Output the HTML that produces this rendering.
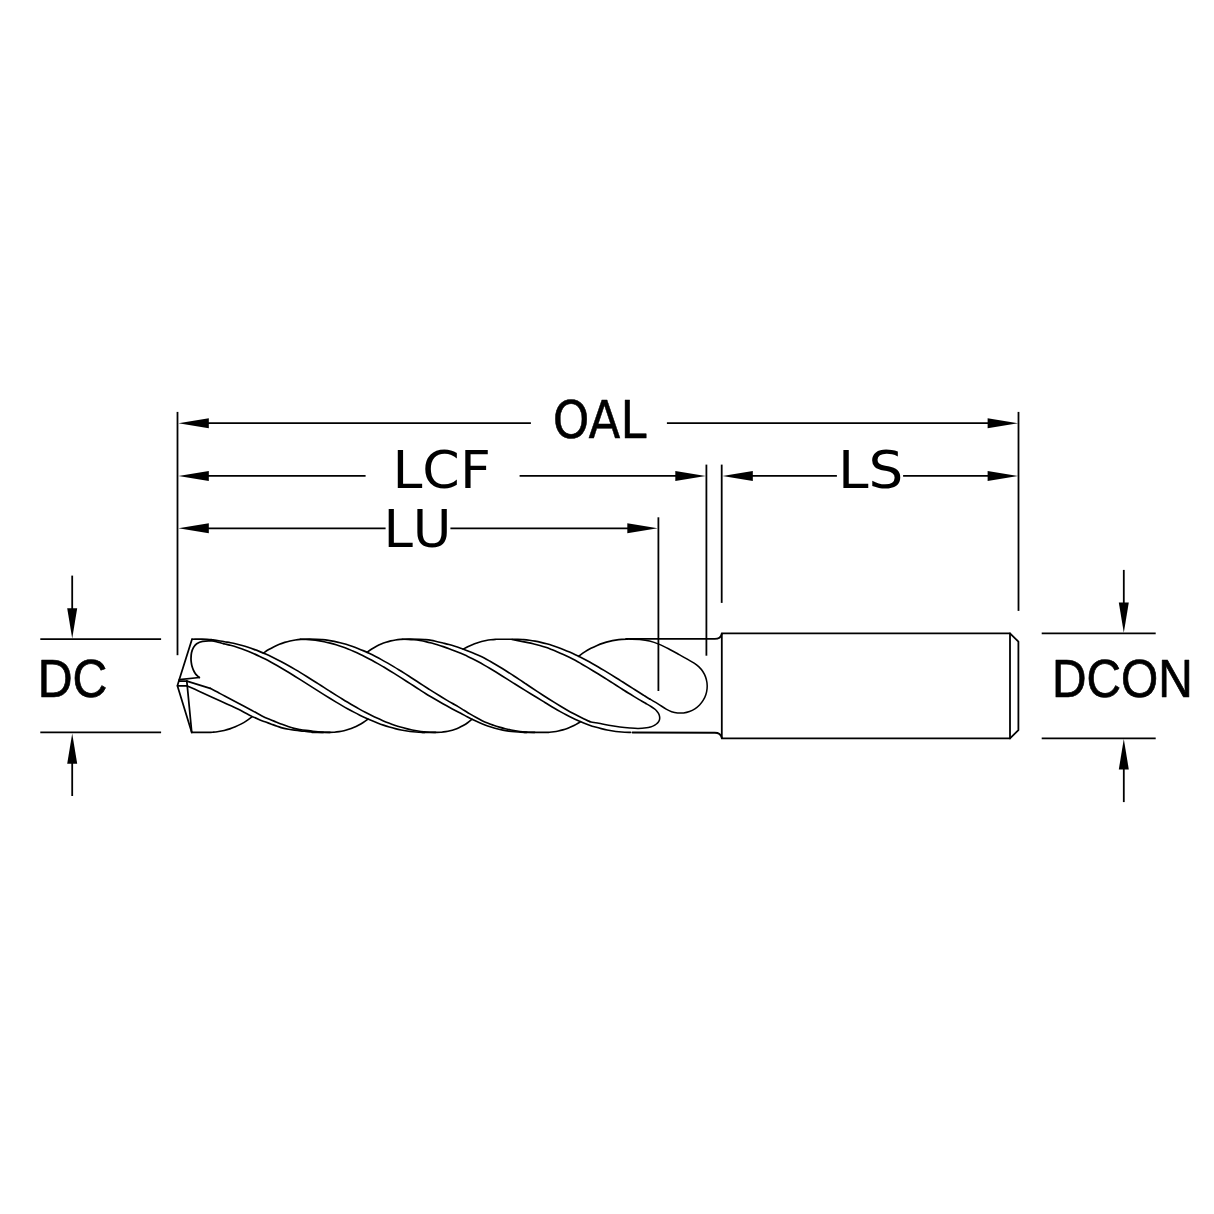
<!DOCTYPE html>
<html lang="en">
<head>
<meta charset="utf-8">
<title>Drill dimensions</title>
<style>
html,body{margin:0;padding:0;background:#fff;}
body{width:1214px;height:1214px;overflow:hidden;font-family:"Liberation Sans",sans-serif;}
svg{display:block;}
.drill path{fill:none;stroke:#000;stroke-width:1.65;stroke-linejoin:round;stroke-linecap:round;}
.dims path{fill:none;stroke:#000;stroke-width:1.8;}
.arrows path{fill:#000;stroke:none;}
text{fill:#000;}
</style>
</head>
<body>
<svg width="1214" height="1214" viewBox="0 0 1214 1214">
<rect width="1214" height="1214" fill="#fff"/>
<g class="dims">
<path d="M177.50 411.90 L177.50 655.20"/>
<path d="M1018.50 411.90 L1018.50 610.90"/>
<path d="M706.40 464.60 L706.40 655.70"/>
<path d="M721.70 464.60 L721.70 602.90"/>
<path d="M658.40 517.30 L658.40 691.00"/>
<path d="M190.00 423.20 L530.90 423.20"/>
<path d="M666.90 423.20 L1005.00 423.20"/>
<path d="M190.00 475.90 L365.60 475.90"/>
<path d="M519.60 475.90 L695.00 475.90"/>
<path d="M735.00 475.90 L836.90 475.90"/>
<path d="M903.10 475.90 L1005.00 475.90"/>
<path d="M190.00 528.30 L385.60 528.30"/>
<path d="M450.40 528.30 L645.00 528.30"/>
<path d="M40.30 639.20 L161.10 639.20"/>
<path d="M40.30 732.30 L161.10 732.30"/>
<path d="M72.2 575.6 L72.2 615"/>
<path d="M72.2 796 L72.2 760"/>
<path d="M1041.70 633.40 L1155.70 633.40"/>
<path d="M1041.70 738.40 L1155.70 738.40"/>
<path d="M1123.8 569.9 L1123.8 610"/>
<path d="M1123.8 802.1 L1123.8 765"/>
</g>
<g class="arrows">
<path d="M178.40 423.20 L208.80 418.20 L208.80 428.20 Z"/>
<path d="M1018.00 423.20 L987.60 428.20 L987.60 418.20 Z"/>
<path d="M178.40 475.90 L208.80 470.90 L208.80 480.90 Z"/>
<path d="M705.70 475.90 L675.30 480.90 L675.30 470.90 Z"/>
<path d="M722.40 475.90 L752.80 470.90 L752.80 480.90 Z"/>
<path d="M1018.00 475.90 L987.60 480.90 L987.60 470.90 Z"/>
<path d="M178.40 528.30 L208.80 523.30 L208.80 533.30 Z"/>
<path d="M657.70 528.30 L627.30 533.30 L627.30 523.30 Z"/>
<path d="M72.20 638.60 L67.20 608.20 L77.20 608.20 Z"/>
<path d="M72.20 733.40 L77.20 763.80 L67.20 763.80 Z"/>
<path d="M1123.80 632.80 L1118.80 602.40 L1128.80 602.40 Z"/>
<path d="M1123.80 739.00 L1128.80 769.40 L1118.80 769.40 Z"/>
</g>
<g class="drill">
<path d="M192.00 639.20 L179.30 679.60 L177.40 685.80 L191.75 732.40" style="stroke-width:1.75"/>
<path d="M179.30 679.70 L199.30 677.50" style="stroke-width:1.75"/>
<path d="M178.90 681.20 L186.90 681.20" style="stroke-width:1.75"/>
<path d="M177.60 685.80 L187.00 685.80" style="stroke-width:1.75"/>
<path d="M186.80 681.20 L191.75 732.40" style="stroke-width:1.75"/>
<path d="M199.30 677.50 C198.90 677.15 197.60 676.12 196.90 675.40 C196.20 674.68 195.70 674.13 195.10 673.20 C194.50 672.27 193.80 670.90 193.30 669.80 C192.80 668.70 192.43 667.80 192.10 666.60 C191.77 665.40 191.48 663.95 191.30 662.60 C191.12 661.25 190.97 660.13 191.00 658.50 C191.03 656.87 191.10 654.62 191.50 652.80 C191.90 650.98 192.53 649.10 193.40 647.60 C194.27 646.10 195.17 644.85 196.70 643.80 C198.23 642.75 200.05 641.78 202.60 641.30 C205.15 640.82 209.45 640.79 212.00 640.94 C214.55 641.09 215.94 641.72 217.91 642.18 C219.88 642.64 221.85 643.22 223.82 643.70" style="stroke-width:1.75"/>
<path d="M223.82 643.70 C225.79 644.19 227.76 644.61 229.73 645.11 C231.70 645.61 233.67 646.10 235.64 646.69 C237.61 647.28 239.59 647.95 241.56 648.66 C243.53 649.38 245.50 650.17 247.47 650.97 C249.44 651.77 251.41 652.60 253.38 653.47 C255.35 654.33 257.32 655.22 259.29 656.15 C261.26 657.07 263.23 658.02 265.20 659.03 C267.17 660.03 269.14 661.11 271.11 662.19 C273.08 663.28 275.05 664.39 277.02 665.52 C278.99 666.65 280.96 667.80 282.93 668.97 C284.90 670.14 286.87 671.33 288.84 672.53 C290.81 673.74 292.79 674.96 294.76 676.19 C296.73 677.41 298.70 678.65 300.67 679.90 C302.64 681.14 304.61 682.40 306.58 683.65 C308.55 684.90 310.52 686.16 312.49 687.42 C314.46 688.67 316.43 689.93 318.40 691.17 C320.37 692.42 322.34 693.66 324.31 694.89 C326.28 696.12 328.25 697.35 330.22 698.56 C332.19 699.76 334.16 700.96 336.13 702.13 C338.10 703.31 340.07 704.47 342.04 705.60 C344.01 706.74 345.99 707.86 347.96 708.95 C349.93 710.04 351.90 711.10 353.87 712.14 C355.84 713.17 357.81 714.18 359.78 715.16 C361.75 716.13 363.72 717.08 365.69 717.98 C367.66 718.89 369.63 719.76 371.60 720.60 C373.57 721.43 375.54 722.23 377.51 722.99 C379.48 723.74 381.45 724.46 383.42 725.13 C385.39 725.81 387.36 726.44 389.33 727.02 C391.30 727.61 393.27 728.15 395.24 728.64 C397.21 729.14 399.19 729.59 401.16 729.98 C403.13 730.38 405.10 730.73 407.07 731.04 C409.04 731.34 411.01 731.59 412.98 731.79 C414.95 731.99 416.92 732.15 418.89 732.25 C420.86 732.35 423.81 732.37 424.80 732.40"/>
<path d="M192.00 639.20 C194.52 639.20 203.61 639.09 207.10 639.20 C210.59 639.31 211.01 639.62 212.96 639.87 C214.91 640.12 216.86 640.38 218.82 640.69 C220.77 641.01 222.72 641.40 224.68 641.74 C226.63 642.07 228.58 642.34 230.54 642.71 C232.49 643.08 234.44 643.49 236.39 643.95 C238.35 644.42 240.30 644.94 242.25 645.50 C244.21 646.07 246.16 646.69 248.11 647.33 C250.07 647.97 252.02 648.65 253.97 649.37 C255.92 650.08 257.88 650.83 259.83 651.62 C261.78 652.41 263.74 653.24 265.69 654.11 C267.64 654.97 269.60 655.87 271.55 656.80 C273.50 657.73 275.45 658.69 277.41 659.69 C279.36 660.68 281.31 661.72 283.27 662.77 C285.22 663.82 287.17 664.90 289.13 666.00 C291.08 667.09 293.03 668.22 294.98 669.36 C296.94 670.50 298.89 671.65 300.84 672.84 C302.80 674.02 304.75 675.25 306.70 676.48 C308.66 677.70 310.61 678.94 312.56 680.18 C314.51 681.42 316.47 682.67 318.42 683.92 C320.37 685.17 322.33 686.43 324.28 687.68 C326.23 688.93 328.19 690.18 330.14 691.42 C332.09 692.66 334.04 693.90 336.00 695.12 C337.95 696.35 339.90 697.56 341.86 698.76 C343.81 699.97 345.76 701.16 347.72 702.32 C349.67 703.49 351.62 704.65 353.57 705.78 C355.53 706.91 357.48 708.02 359.43 709.10 C361.39 710.18 363.34 711.24 365.29 712.27 C367.25 713.30 369.20 714.30 371.15 715.27 C373.10 716.24 375.06 717.18 377.01 718.08 C378.96 718.98 380.92 719.85 382.87 720.68 C384.82 721.51 386.78 722.30 388.73 723.05 C390.68 723.80 392.63 724.52 394.59 725.19 C396.54 725.85 398.49 726.48 400.45 727.06 C402.40 727.64 404.35 728.18 406.31 728.67 C408.26 729.16 410.21 729.61 412.16 730.00 C414.12 730.40 416.07 730.75 418.02 731.05 C419.98 731.35 421.93 731.60 423.88 731.80 C425.84 732.00 427.79 732.15 429.74 732.25 C431.69 732.35 434.62 732.37 435.60 732.40"/>
<path d="M186.90 681.20 L210.20 688.30" style="stroke-width:1.75"/>
<path d="M210.20 688.30 C211.40 688.93 214.98 690.82 217.40 692.10 C219.82 693.38 221.28 694.20 224.70 696.00 C228.12 697.80 233.35 700.50 237.90 702.90 C242.45 705.30 247.98 708.23 252.00 710.40 C256.02 712.57 259.00 714.38 262.00 715.90 C265.00 717.42 267.67 718.52 270.00 719.53 C272.33 720.53 274.00 721.12 276.00 721.92 C278.00 722.73 280.00 723.57 282.00 724.34 C284.00 725.11 286.00 725.88 288.00 726.54 C290.00 727.21 292.00 727.84 294.00 728.33 C296.00 728.82 298.00 729.16 300.00 729.51 C302.00 729.86 304.00 730.15 306.00 730.43 C308.00 730.71 310.00 730.95 312.00 731.19 C314.00 731.43 316.00 731.68 318.00 731.86 C320.00 732.04 322.00 732.17 324.00 732.26 C326.00 732.35 329.00 732.38 330.00 732.40"/>
<path d="M187.30 685.90 C189.33 686.82 195.47 689.57 199.50 691.40 C203.53 693.23 207.30 694.98 211.50 696.90 C215.70 698.82 220.30 700.88 224.70 702.90 C229.10 704.92 233.83 707.00 237.90 709.00 C241.97 711.00 245.42 713.07 249.10 714.90 C252.78 716.73 257.22 718.80 260.00 720.00 C262.78 721.19 263.84 721.37 265.75 722.07 C267.67 722.76 269.59 723.48 271.51 724.17 C273.43 724.86 275.35 725.56 277.26 726.22 C279.18 726.87 281.10 727.57 283.02 728.08 C284.94 728.59 286.85 728.93 288.77 729.28 C290.69 729.63 292.61 729.92 294.53 730.19 C296.45 730.46 298.36 730.69 300.28 730.89 C302.20 731.10 304.12 731.26 306.04 731.44 C307.95 731.62 309.87 731.83 311.79 731.97 C313.71 732.11 315.63 732.22 317.55 732.29 C319.46 732.36 322.34 732.38 323.30 732.40"/>
<path d="M191.75 732.40 C194.38 732.40 203.95 732.44 207.50 732.40 C211.05 732.36 211.21 732.33 213.06 732.18 C214.92 732.04 216.77 731.82 218.62 731.53 C220.48 731.24 222.33 730.87 224.19 730.43 C226.04 729.98 227.90 729.46 229.75 728.85 C231.60 728.24 233.46 727.56 235.31 726.77 C237.17 725.98 239.02 725.12 240.88 724.13 C242.73 723.15 244.58 722.08 246.44 720.87 C248.29 719.66 251.07 717.53 252.00 716.86"/>
<path d="M263.40 653.11 C264.29 652.52 266.95 650.64 268.72 649.57 C270.50 648.49 272.27 647.53 274.05 646.66 C275.82 645.78 277.60 645.00 279.38 644.29 C281.15 643.58 282.93 642.96 284.70 642.41 C286.47 641.86 288.25 641.39 290.02 640.99 C291.80 640.59 293.58 640.26 295.35 639.99 C297.12 639.72 298.90 639.53 300.68 639.40 C302.45 639.27 303.35 639.22 306.00 639.20 C308.65 639.18 313.85 639.20 316.60 639.27 C319.35 639.35 320.53 639.48 322.49 639.66 C324.46 639.84 326.42 640.07 328.39 640.36 C330.35 640.64 332.32 640.98 334.28 641.37 C336.25 641.77 338.21 642.21 340.18 642.70 C342.14 643.19 344.11 643.74 346.07 644.33 C348.04 644.92 350.00 645.56 351.97 646.24 C353.93 646.92 355.90 647.66 357.86 648.43 C359.83 649.20 361.79 650.02 363.76 650.88 C365.72 651.73 367.69 652.63 369.65 653.57 C371.62 654.50 373.58 655.48 375.55 656.48 C377.51 657.49 379.48 658.53 381.44 659.60 C383.41 660.67 385.37 661.78 387.34 662.90 C389.30 664.03 391.26 665.19 393.23 666.36 C395.19 667.54 397.16 668.74 399.12 669.96 C401.09 671.17 403.05 672.41 405.02 673.66 C406.98 674.91 408.95 676.18 410.91 677.45 C412.88 678.72 414.84 680.01 416.81 681.30 C418.77 682.58 420.74 683.90 422.70 685.18 C424.67 686.45 426.63 687.71 428.60 688.96 C430.56 690.20 432.53 691.43 434.49 692.65 C436.46 693.88 438.42 695.10 440.39 696.30 C442.35 697.50 444.32 698.70 446.28 699.87 C448.25 701.04 450.21 702.20 452.18 703.33 C454.14 704.46 456.11 705.51 458.07 706.66 C460.04 707.82 462.00 709.06 463.96 710.26 C465.93 711.47 467.89 712.72 469.86 713.89 C471.82 715.06 473.79 716.20 475.75 717.28 C477.72 718.36 479.68 719.42 481.65 720.39 C483.61 721.35 485.58 722.26 487.54 723.06 C489.51 723.87 491.47 724.54 493.44 725.22 C495.40 725.89 497.37 726.52 499.33 727.10 C501.30 727.68 503.26 728.22 505.23 728.70 C507.19 729.19 509.16 729.63 511.12 730.01 C513.09 730.39 515.05 730.72 517.02 731.01 C518.98 731.30 520.95 731.55 522.91 731.75 C524.88 731.96 526.84 732.13 528.81 732.24 C530.77 732.35 533.72 732.37 534.70 732.40"/>
<path d="M300.40 639.20 C301.39 639.23 304.37 639.25 306.36 639.36 C308.34 639.47 310.33 639.62 312.31 639.84 C314.30 640.05 316.28 640.31 318.27 640.63 C320.25 640.94 322.24 641.31 324.22 641.72 C326.21 642.14 328.19 642.61 330.18 643.12 C332.16 643.64 334.15 644.21 336.13 644.82 C338.12 645.43 340.10 646.09 342.09 646.79 C344.07 647.49 346.06 648.24 348.04 649.03 C350.03 649.81 352.01 650.65 354.00 651.52 C355.98 652.38 357.97 653.29 359.95 654.24 C361.94 655.18 363.92 656.17 365.91 657.18 C367.89 658.19 369.88 659.24 371.86 660.31 C373.85 661.39 375.83 662.49 377.82 663.62 C379.80 664.75 381.79 665.91 383.77 667.08 C385.76 668.26 387.74 669.46 389.73 670.67 C391.71 671.88 393.70 673.12 395.68 674.36 C397.67 675.60 399.65 676.86 401.64 678.13 C403.62 679.40 405.61 680.67 407.59 681.95 C409.58 683.23 411.56 684.52 413.55 685.80 C415.54 687.08 417.52 688.37 419.51 689.65 C421.49 690.92 423.48 692.22 425.46 693.46 C427.45 694.69 429.43 695.87 431.42 697.06 C433.40 698.25 435.39 699.43 437.37 700.58 C439.36 701.74 441.34 702.89 443.33 704.01 C445.31 705.12 447.30 706.23 449.28 707.30 C451.27 708.37 453.25 709.40 455.24 710.43 C457.22 711.46 459.21 712.43 461.19 713.49 C463.18 714.55 465.16 715.72 467.15 716.78 C469.13 717.83 471.12 718.87 473.10 719.83 C475.09 720.79 477.07 721.68 479.06 722.55 C481.04 723.41 483.03 724.27 485.01 725.01 C487.00 725.76 488.98 726.40 490.97 727.02 C492.95 727.65 494.94 728.24 496.92 728.75 C498.91 729.27 500.89 729.73 502.88 730.12 C504.86 730.51 506.85 730.82 508.83 731.10 C510.82 731.37 512.80 731.58 514.79 731.77 C516.77 731.96 518.76 732.14 520.74 732.24 C522.73 732.35 525.71 732.37 526.70 732.40"/>
<path d="M312.00 732.40 C314.92 732.40 325.78 732.43 329.50 732.40 C333.22 732.37 332.71 732.34 334.31 732.21 C335.92 732.09 337.52 731.90 339.12 731.65 C340.73 731.40 342.33 731.08 343.94 730.70 C345.54 730.31 347.15 729.87 348.75 729.34 C350.35 728.82 351.96 728.23 353.56 727.55 C355.17 726.87 356.77 726.13 358.38 725.28 C359.98 724.44 361.58 723.51 363.19 722.47 C364.79 721.43 367.20 719.61 368.00 719.03"/>
<path d="M367.00 652.33 C367.79 651.77 370.17 649.97 371.75 648.95 C373.33 647.93 374.92 647.03 376.50 646.19 C378.08 645.36 379.67 644.63 381.25 643.97 C382.83 643.30 384.42 642.72 386.00 642.21 C387.58 641.69 389.17 641.25 390.75 640.87 C392.33 640.49 393.92 640.19 395.50 639.94 C397.08 639.69 398.67 639.51 400.25 639.38 C401.83 639.26 401.77 639.22 405.00 639.20 C408.23 639.18 416.19 639.20 419.60 639.27 C423.01 639.35 423.52 639.46 425.48 639.65 C427.43 639.84 429.39 640.06 431.35 640.40 C433.31 640.74 435.27 641.25 437.23 641.69 C439.19 642.14 441.14 642.59 443.10 643.06 C445.06 643.54 447.02 644.00 448.98 644.53 C450.94 645.07 452.90 645.66 454.86 646.28 C456.81 646.91 458.77 647.61 460.73 648.31 C462.69 649.00 464.65 649.73 466.61 650.48 C468.57 651.23 470.52 651.98 472.48 652.79 C474.44 653.59 476.40 654.44 478.36 655.32 C480.32 656.19 482.28 657.06 484.23 658.05 C486.19 659.04 488.15 660.17 490.11 661.28 C492.07 662.39 494.03 663.55 495.99 664.71 C497.94 665.88 499.90 667.08 501.86 668.29 C503.82 669.49 505.78 670.73 507.74 671.97 C509.70 673.21 511.66 674.47 513.61 675.74 C515.57 677.00 517.53 678.26 519.49 679.57 C521.45 680.87 523.41 682.23 525.37 683.56 C527.32 684.90 529.28 686.25 531.24 687.55 C533.20 688.86 535.16 690.14 537.12 691.42 C539.08 692.70 541.03 693.98 542.99 695.24 C544.95 696.50 546.91 697.76 548.87 699.00 C550.83 700.23 552.79 701.45 554.74 702.66 C556.70 703.86 558.66 705.04 560.62 706.20 C562.58 707.37 564.54 708.54 566.50 709.67 C568.46 710.79 570.41 711.90 572.37 712.96 C574.33 714.03 576.29 715.07 578.25 716.07 C580.21 717.08 582.17 718.05 584.12 718.98 C586.08 719.90 587.55 720.92 590.00 721.64"/>
<path d="M590.00 721.64 C592.45 722.36 595.68 722.71 598.80 723.30 C601.92 723.89 605.18 724.58 608.70 725.20 C612.22 725.82 616.35 726.53 619.90 727.00 C623.45 727.47 626.95 727.77 630.00 728.00 C633.05 728.23 635.45 728.43 638.20 728.40 C640.95 728.37 644.43 728.05 646.50 727.80 C648.57 727.55 649.37 727.27 650.60 726.90 C651.83 726.53 652.93 726.08 653.90 725.60 C654.87 725.12 655.68 724.57 656.40 724.00 C657.12 723.43 657.70 722.87 658.20 722.20 C658.70 721.53 659.15 720.77 659.40 720.00 C659.65 719.23 659.73 718.42 659.70 717.60 C659.67 716.78 659.48 715.92 659.20 715.10 C658.92 714.28 658.45 713.43 658.00 712.70 C657.55 711.97 657.08 711.33 656.50 710.70 C655.92 710.07 655.42 709.60 654.50 708.90 C653.58 708.20 652.42 707.39 651.00 706.50 C649.58 705.61 647.82 704.62 646.00 703.56" style="stroke-width:1.55"/>
<path d="M646.00 703.56 C644.18 702.50 642.07 701.30 640.10 700.15 C638.13 699.00 636.17 697.84 634.20 696.66 C632.23 695.47 630.27 694.28 628.30 693.05 C626.33 691.82 624.37 690.55 622.40 689.29 C620.43 688.03 618.47 686.76 616.50 685.50 C614.53 684.24 612.57 682.99 610.60 681.74 C608.63 680.49 606.67 679.25 604.70 678.01 C602.73 676.77 600.77 675.54 598.80 674.32 C596.83 673.10 594.87 671.88 592.90 670.68 C590.93 669.48 588.97 668.29 587.00 667.12 C585.03 665.95 583.07 664.79 581.10 663.66 C579.13 662.53 577.17 661.39 575.20 660.33 C573.23 659.27 571.27 658.26 569.30 657.29 C567.33 656.32 565.37 655.41 563.40 654.51 C561.43 653.61 559.47 652.74 557.50 651.91 C555.53 651.08 553.57 650.27 551.60 649.51 C549.63 648.75 547.67 647.99 545.70 647.32 C543.73 646.65 541.77 646.06 539.80 645.50 C537.83 644.93 535.87 644.41 533.90 643.93 C531.93 643.45 531.65 643.35 528.00 642.61 C524.35 641.87 514.67 640.02 512.00 639.50"/>
<path d="M402.30 639.20 C403.28 639.23 406.20 639.25 408.15 639.35 C410.10 639.45 412.05 639.60 414.00 639.80 C415.95 640.00 417.90 640.25 419.85 640.55 C421.80 640.86 423.75 641.19 425.71 641.61 C427.66 642.03 429.61 642.53 431.56 643.06 C433.51 643.59 435.46 644.19 437.41 644.79 C439.36 645.38 441.31 646.00 443.26 646.65 C445.21 647.30 447.16 647.95 449.11 648.66 C451.06 649.38 453.01 650.15 454.96 650.92 C456.91 651.69 458.86 652.47 460.81 653.29 C462.76 654.12 464.71 654.98 466.66 655.87 C468.61 656.77 470.56 657.66 472.52 658.65 C474.47 659.63 476.42 660.71 478.37 661.79 C480.32 662.86 482.27 663.97 484.22 665.10 C486.17 666.22 488.12 667.37 490.07 668.53 C492.02 669.70 493.97 670.88 495.92 672.08 C497.87 673.28 499.82 674.49 501.77 675.71 C503.72 676.93 505.67 678.16 507.62 679.40 C509.57 680.64 511.52 681.90 513.47 683.13 C515.42 684.36 517.38 685.58 519.33 686.79 C521.28 688.00 523.23 689.21 525.18 690.41 C527.13 691.62 529.08 692.81 531.03 694.00 C532.98 695.19 534.93 696.34 536.88 697.53 C538.83 698.71 540.78 699.91 542.73 701.11 C544.68 702.32 546.63 703.56 548.58 704.75 C550.53 705.94 552.48 707.12 554.43 708.26 C556.38 709.41 558.33 710.53 560.28 711.62 C562.24 712.71 564.19 713.78 566.14 714.79 C568.09 715.81 570.04 716.78 571.99 717.72 C573.94 718.66 575.89 719.57 577.84 720.44 C579.79 721.31 581.74 722.14 583.69 722.93 C585.64 723.72 587.59 724.49 589.54 725.18 C591.49 725.87 593.44 726.48 595.39 727.06 C597.34 727.64 599.29 728.18 601.24 728.67 C603.19 729.16 605.14 729.61 607.09 730.00 C609.05 730.40 611.00 730.75 612.95 731.05 C614.90 731.35 616.85 731.60 618.80 731.80 C620.75 732.00 622.70 732.15 624.65 732.25 C626.60 732.35 629.52 732.37 630.50 732.40"/>
<path d="M632.50 732.50 L714.8 732.75 C718 732.75 721 734.40 721.8 737.90" style="stroke-width:1.8"/>
<path d="M422.00 732.40 C424.50 732.40 433.77 732.43 437.00 732.40 C440.23 732.37 439.92 732.34 441.38 732.22 C442.83 732.10 444.29 731.92 445.75 731.68 C447.21 731.43 448.67 731.13 450.12 730.76 C451.58 730.39 453.04 729.95 454.50 729.45 C455.96 728.94 457.42 728.36 458.88 727.70 C460.33 727.04 461.79 726.32 463.25 725.49 C464.71 724.66 466.17 723.75 467.62 722.72 C469.08 721.69 471.27 719.87 472.00 719.30"/>
<path d="M463.10 649.19 C463.87 648.78 466.18 647.47 467.71 646.71 C469.25 645.96 470.79 645.27 472.33 644.64 C473.86 644.01 475.40 643.44 476.94 642.93 C478.48 642.42 480.01 641.97 481.55 641.57 C483.09 641.16 484.62 640.82 486.16 640.52 C487.70 640.22 489.24 639.98 490.77 639.78 C492.31 639.59 493.85 639.44 495.39 639.35 C496.93 639.25 496.25 639.21 500.00 639.20 C503.75 639.19 513.96 639.20 517.90 639.27 C521.84 639.34 521.73 639.45 523.64 639.61 C525.56 639.78 527.47 639.99 529.39 640.24 C531.30 640.50 533.22 640.80 535.13 641.15 C537.04 641.50 538.96 641.90 540.87 642.34 C542.79 642.78 544.70 643.26 546.62 643.79 C548.53 644.32 550.45 644.89 552.36 645.51 C554.28 646.12 556.19 646.77 558.10 647.47 C560.02 648.16 561.93 648.90 563.85 649.67 C565.76 650.44 567.68 651.25 569.59 652.09 C571.51 652.93 573.42 653.81 575.33 654.72 C577.25 655.63 579.16 656.57 581.08 657.54 C582.99 658.51 584.91 659.51 586.82 660.53 C588.74 661.56 590.65 662.61 592.57 663.69 C594.48 664.76 596.39 665.86 598.31 666.98 C600.22 668.09 602.14 669.23 604.05 670.38 C605.97 671.53 607.88 672.70 609.80 673.88 C611.71 675.06 613.62 676.25 615.54 677.45 C617.45 678.65 619.37 679.87 621.28 681.08 C623.20 682.29 625.11 683.51 627.03 684.73 C628.94 685.95 630.86 687.18 632.77 688.39 C634.68 689.61 636.60 690.83 638.51 692.04 C640.43 693.25 642.34 694.45 644.26 695.64 C646.17 696.84 647.71 697.81 650.00 699.19"/>
<path d="M650.00 699.19 C652.29 700.57 655.31 702.25 658.00 703.90 C660.69 705.55 663.89 707.79 666.16 709.09 C668.44 710.38 669.74 711.02 671.63 711.67 C673.53 712.31 675.55 712.75 677.54 712.96 C679.53 713.16 681.60 713.14 683.59 712.90 C685.58 712.65 687.59 712.17 689.47 711.49 C691.35 710.81 693.20 709.89 694.89 708.80 C696.57 707.72 698.17 706.41 699.57 704.97 C700.96 703.54 702.23 701.91 703.27 700.20 C704.31 698.48 705.18 696.61 705.82 694.71 C706.45 692.81 706.88 690.79 707.07 688.79 C707.27 686.80 707.23 684.74 706.98 682.75 C706.72 680.76 706.23 678.76 705.53 676.88 C704.84 675.00 703.91 673.15 702.81 671.48 C701.72 669.80 700.40 668.21 698.95 666.82 C697.51 665.43 696.03 664.38 694.15 663.14 C692.28 661.91 690.19 660.82 687.70 659.40 C685.21 657.98 682.27 656.30 679.20 654.60 C676.13 652.90 672.60 650.90 669.30 649.20 C666.00 647.50 662.70 645.77 659.40 644.40 C656.10 643.03 652.78 641.82 649.50 641.00 C646.22 640.18 642.98 639.80 639.70 639.50 C636.42 639.20 631.45 639.25 629.80 639.20" style="stroke-width:1.55"/>
<path d="M524.00 732.40 C527.50 732.40 540.76 732.43 545.00 732.40 C549.24 732.37 547.97 732.35 549.45 732.25 C550.93 732.14 552.42 731.99 553.90 731.78 C555.38 731.57 556.87 731.31 558.35 731.00 C559.83 730.68 561.32 730.32 562.80 729.89 C564.28 729.46 565.77 728.98 567.25 728.43 C568.73 727.88 570.22 727.27 571.70 726.59 C573.18 725.91 574.67 725.17 576.15 724.35 C577.63 723.52 579.86 722.09 580.60 721.64"/>
<path d="M578.60 656.30 C579.63 655.57 582.72 653.23 584.77 651.90 C586.83 650.57 588.89 649.39 590.95 648.31 C593.01 647.23 595.07 646.27 597.12 645.41 C599.18 644.54 601.24 643.78 603.30 643.11 C605.36 642.44 607.42 641.87 609.48 641.38 C611.53 640.88 613.59 640.48 615.65 640.16 C617.71 639.84 619.77 639.60 621.83 639.44 C623.88 639.28 626.97 639.24 628.00 639.20"/>
<path d="M626 638.90 L714.8 638.90 C718 638.90 721 637.20 721.8 633.70" style="stroke-width:1.8"/>
<path d="M721.8 633.35 L1010.0 633.35 L1018.4 641.6 L1018.4 730.2 L1010.0 738.4 L721.8 738.4 Z" style="stroke-width:1.8"/>
<path d="M1010.0 633.35 L1010.0 738.4" style="stroke-width:1.8"/>
</g>
<g class="labels">
<text transform="translate(552.72 437.75) scale(0.9102 1)" font-family="'DejaVu Sans', sans-serif" font-size="51.17" style="font-kerning:auto" stroke="#000" stroke-width="0.50" stroke-linejoin="round" vector-effect="non-scaling-stroke">OAL</text>
<text transform="translate(392.43 488.10) scale(1.0367 1)" font-family="'DejaVu Sans', sans-serif" font-size="51.85" style="font-kerning:auto">LCF</text>
<text transform="translate(383.38 546.90) scale(1.0218 1)" font-family="'DejaVu Sans', sans-serif" font-size="51.71" style="font-kerning:none">LU</text>
<text transform="translate(837.88 488.10) scale(1.0632 1)" font-family="'DejaVu Sans', sans-serif" font-size="51.58" style="font-kerning:auto">LS</text>
<text transform="translate(37.67 697.15) scale(0.8975 1)" font-family="'Liberation Sans', sans-serif" font-size="53.78" style="font-kerning:auto" stroke="#000" stroke-width="0.70" stroke-linejoin="round" vector-effect="non-scaling-stroke">DC</text>
<text transform="translate(1051.96 697.25) scale(0.8876 1)" font-family="'Liberation Sans', sans-serif" font-size="53.92" style="font-kerning:auto" stroke="#000" stroke-width="0.70" stroke-linejoin="round" vector-effect="non-scaling-stroke">DCON</text>
</g>
</svg>
</body>
</html>
